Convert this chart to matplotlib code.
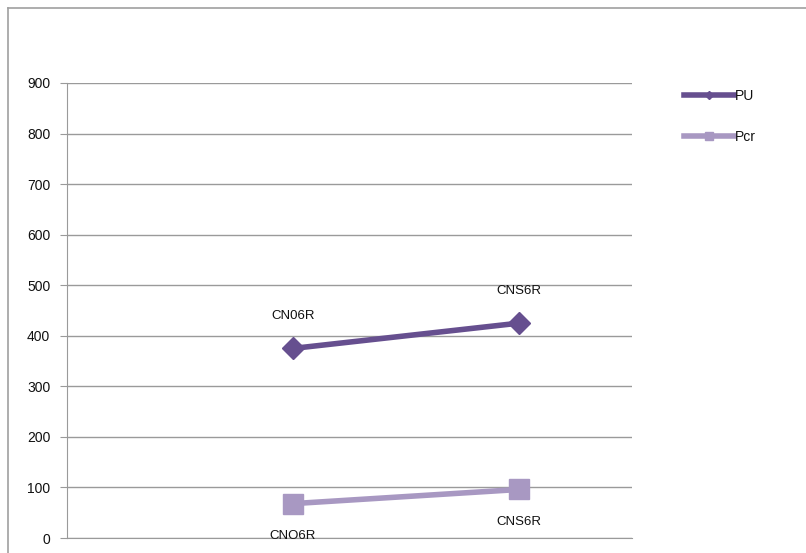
import matplotlib.pyplot as plt
from matplotlib.lines import Line2D

plt.rcParams['font.family'] = ['Liberation Sans', 'DejaVu Sans']

# data
x_pos = [1, 2]
pu = [375, 425]
pcr = [68, 96]
pu_labels = ['CN06R', 'CNS6R']
pcr_labels = ['CNO6R', 'CNS6R']
yticks = list(range(0, 901, 100))

c_pu = '#664f8f'
c_pcr = '#a898c2'
grid_c = '#9a9a9a'
txt_c = '#111111'

fig = plt.figure(figsize=(8.06, 5.53), dpi=100)
ax = fig.add_axes([67 / 806, 1 - 538 / 553, (632 - 67) / 806, (538 - 83) / 553])

ax.plot(x_pos, pu, color=c_pu, lw=4, marker='D', ms=11, zorder=3)
ax.plot(x_pos, pcr, color=c_pcr, lw=4, marker='s', ms=15, zorder=3)

for x, y, t in zip(x_pos, pu, pu_labels):
    ax.annotate(t, (x, y), xytext=(0, 19), textcoords='offset points',
                ha='center', va='bottom', fontsize=9.5, color=txt_c)
for x, y, t in zip(x_pos, pcr, pcr_labels):
    ax.annotate(t, (x, y), xytext=(0, -19), textcoords='offset points',
                ha='center', va='top', fontsize=9.5, color=txt_c,
                annotation_clip=False)

ax.set_xlim(0, 2.5)
ax.set_ylim(0, 900)
ax.set_yticks(yticks)
ax.set_xticks([])
ax.yaxis.grid(True, color=grid_c, lw=1)
ax.set_axisbelow(True)
for s in ['top', 'right']:
    ax.spines[s].set_visible(False)
ax.spines['left'].set_color(grid_c)
ax.spines['bottom'].set_color(grid_c)
ax.tick_params(axis='y', length=5, color=grid_c, labelsize=10, pad=7,
               labelcolor=txt_c)

handles = [Line2D([], [], color=c_pu, lw=4, marker='D', ms=4),
           Line2D([], [], color=c_pcr, lw=4, marker='s', ms=6)]
fig.legend(handles, ['PU', 'Pcr'], loc='upper left',
           bbox_to_anchor=(671 / 806, 1 - 76 / 553), frameon=False,
           fontsize=10, handlelength=3.6, handletextpad=0.1, labelspacing=2.0,
           labelcolor=txt_c)

# outer chart border
fig.add_artist(Line2D([8 / 806, 8 / 806], [0, 1 - 8 / 553], color='#a0a0a0', lw=1.2))
fig.add_artist(Line2D([8 / 806, 1], [1 - 8 / 553, 1 - 8 / 553], color='#a0a0a0', lw=1.2))

fig.savefig('out.png', dpi=100)
